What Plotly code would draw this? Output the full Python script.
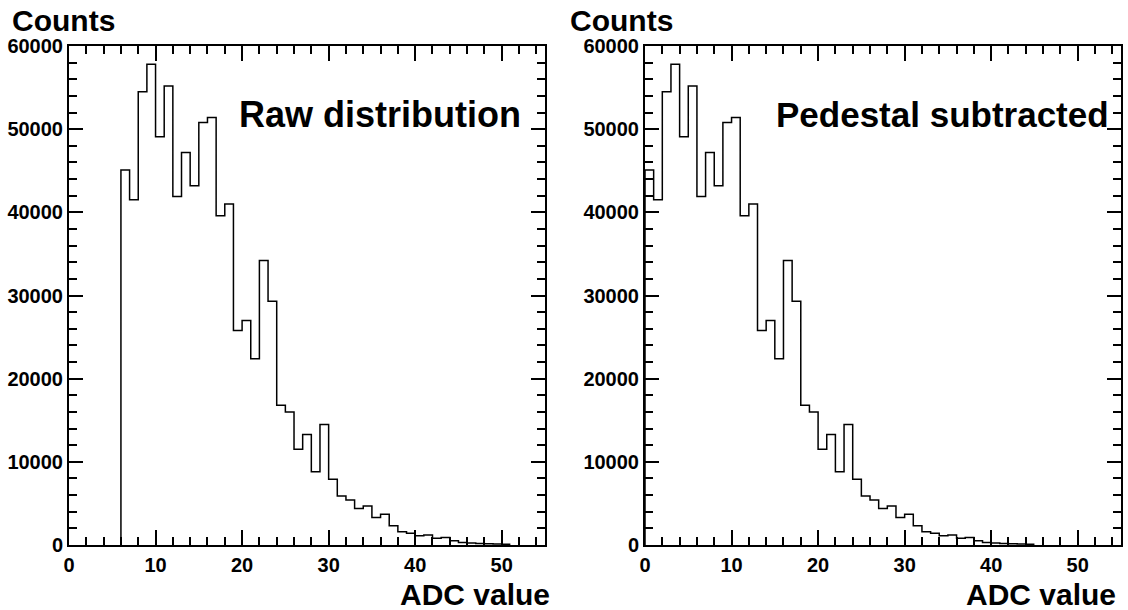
import plotly.graph_objects as go

# ADC histogram, bin width 1, first filled bin of the raw distribution starts at 6
counts = [45100, 41500, 54500, 57800, 49100, 55200, 41900, 47200, 43200, 50800,
          51400, 39600, 41000, 25800, 27000, 22400, 34200, 29300, 16800, 16000,
          11500, 13300, 8800, 14500, 7900, 5900, 5400, 4400, 4700, 3300,
          3700, 2300, 1600, 1400, 1100, 1200, 800, 900, 500, 300,
          250, 180, 150, 120, 100]
raw_start = 6
pedestal = 6

panel_titles = ["Raw distribution", "Pedestal subtracted"]
x_title = "ADC value"
y_title = "Counts"

FONT = "Liberation Sans, Arial, Helvetica, sans-serif"
W, H = 1128, 610


def step_xy(start):
    # step outline: up from 0 at the first edge, flat over each bin
    xs = [start] + [start + i for i in range(len(counts))] + [start + len(counts)]
    ys = [0] + counts + [counts[-1]]
    return xs, ys


fig = go.Figure()

starts = [raw_start, raw_start - pedestal]
doms = [(69 / W, 545 / W), (645 / W, 1121 / W)]
ydom = ((610 - 545) / H, (610 - 46) / H)

for i, st in enumerate(starts):
    xs, ys = step_xy(st)
    fig.add_trace(go.Scatter(x=xs, y=ys, mode="lines", line_shape="hv",
                             line=dict(color="black", width=1.5),
                             xaxis="x" if i == 0 else "x2",
                             yaxis="y" if i == 0 else "y2",
                             showlegend=False, hoverinfo="skip"))

axis_common = dict(showline=True, linecolor="black", linewidth=2, mirror="allticks",
                   ticks="inside", tickcolor="black", tickwidth=1.5,
                   showgrid=False, zeroline=False, automargin=False,
                   tickfont=dict(family=FONT, size=20, color="black", weight="bold"))

for i in range(2):
    sfx = "" if i == 0 else "2"
    fig.update_layout(**{
        "xaxis" + sfx: dict(axis_common, domain=doms[i], range=[0, 55], dtick=10,
                            ticklen=15, anchor="y" + sfx,
                            minor=dict(dtick=2, ticklen=8, ticks="inside",
                                       tickcolor="black", tickwidth=1.5),
                            ticklabelstandoff=1),
        "yaxis" + sfx: dict(axis_common, domain=ydom, range=[0, 60000], dtick=10000,
                            tickformat="d", ticklen=14, anchor="x" + sfx,
                            minor=dict(dtick=2000, ticklen=8, ticks="inside",
                                       tickcolor="black", tickwidth=1.5),
                            ticklabelstandoff=0),
    })

ann = []
# "Counts" over each panel
for xl in (10, 568):
    ann.append(dict(text=y_title, x=xl / W, y=(610 - 20) / H, xref="paper", yref="paper",
                    xanchor="left", yanchor="middle", showarrow=False,
                    font=dict(family=FONT, size=30, color="black", weight="bold")))
# "ADC value" below each panel, right aligned
for xr in (552, 1118):
    ann.append(dict(text=x_title, x=xr / W, y=(610 - 594) / H, xref="paper", yref="paper",
                    xanchor="right", yanchor="middle", showarrow=False,
                    font=dict(family=FONT, size=30, color="black", weight="bold")))
# panel labels
ann.append(dict(text=panel_titles[0], x=523 / W, y=(610 - 115) / H, xref="paper", yref="paper",
                xanchor="right", yanchor="middle", showarrow=False,
                font=dict(family=FONT, size=36, color="black", weight="bold")))
ann.append(dict(text=panel_titles[1], x=1111 / W, y=(610 - 115) / H, xref="paper", yref="paper",
                xanchor="right", yanchor="middle", showarrow=False,
                font=dict(family=FONT, size=35, color="black", weight="bold")))

fig.update_layout(width=W, height=H, margin=dict(l=0, r=0, t=0, b=0),
                  paper_bgcolor="white", plot_bgcolor="white", annotations=ann)

# drop the default page margin so the figure sits at the window's corner
fig.write_html("out.html", config={"displayModeBar": False},
               post_script="document.body.style.margin='0';")
